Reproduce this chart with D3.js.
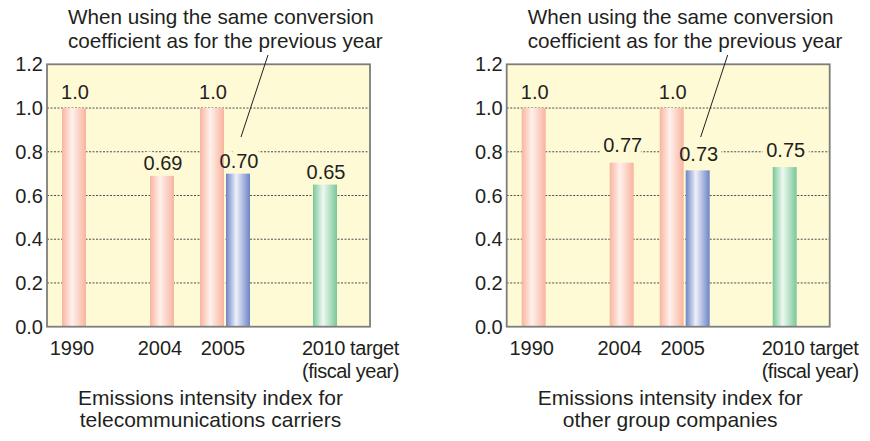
<!DOCTYPE html>
<html>
<head>
<meta charset="utf-8">
<script src="https://cdn.jsdelivr.net/npm/d3@7"></script>
<style>
  body { margin: 0; background: #fff; }
  text { font-family: "Liberation Sans", Arial, sans-serif; fill: #231f20; }
</style>
</head>
<body>
<svg id="chart" width="870" height="441"></svg>
<script>
// categories on the x axis
var categories = ["1990", "2004", "2005", "2010 target"];
// each bar: category, kind (pink = actual, blue = same coefficient, green = target)
var barCategory = ["1990", "2004", "2005", "2005", "2010 target"];
var barKind = ["actual", "actual", "actual", "sameCoef", "target"];
// bar heights as drawn, and the labels printed above them
var carrierValues = [1.0, 0.69, 1.0, 0.70, 0.65];
var carrierLabels = ["1.0", "0.69", "1.0", "0.70", "0.65"];
var groupValues = [1.0, 0.75, 1.0, 0.715, 0.73];
var groupLabels = ["1.0", "0.77", "1.0", "0.73", "0.75"];
var yTicks = [0, 0.2, 0.4, 0.6, 0.8, 1.0, 1.2];
var noteLines = ["When using the same conversion", "coefficient as for the previous year"];
var carrierTitle = ["Emissions intensity index for", "telecommunications carriers"];
var groupTitle = ["Emissions intensity index for", "other group companies"];

var svg = d3.select("#chart");
var bg = "#fffad6";

// gradients for the bars
var defs = svg.append("defs");
var gradColors = {
    actual: ["#f8b49f", "#fff1ec"],
    sameCoef: ["#6c84c6", "#eef0fa"],
    target: ["#78c898", "#eef8f1"]
};
Object.keys(gradColors).forEach(function (k) {
    var g = defs.append("linearGradient").attr("id", "grad-" + k)
        .attr("x1", "0").attr("x2", "1").attr("y1", "0").attr("y2", "0");
    g.append("stop").attr("offset", "0").attr("stop-color", gradColors[k][0]);
    g.append("stop").attr("offset", "0.42").attr("stop-color", gradColors[k][1]);
    g.append("stop").attr("offset", "1").attr("stop-color", gradColors[k][0]);
});

var plotW = 323, plotTop = 64.3, plotBottom = 326.7;
var barW = 24;

function drawPanel(left, values, labels, title) {
    var g = svg.append("g").attr("transform", "translate(" + left + ",0)");

    var y = d3.scaleLinear().domain([0, 1.2]).range([plotBottom, plotTop]);
    // group centres inside the plot
    var x = d3.scaleOrdinal().domain(categories).range([27, 115, 178, 278]);
    // left edge of a bar inside its group
    var sub = function (i) {
        var cat = barCategory[i];
        var n = barCategory.filter(function (c) { return c === cat; }).length;
        var k = barCategory.slice(0, i).filter(function (c) { return c === cat; }).length;
        return x(cat) - (n * barW + (n - 1) * 2) / 2 + k * (barW + 2);
    };
    var labelY = function (d, i) { return y(Math.max(d, +labels[i])) - (d >= 1 ? 9 : 6); };

    // background
    g.append("rect")
        .attr("x", 0).attr("y", plotTop)
        .attr("width", plotW).attr("height", plotBottom - plotTop)
        .attr("fill", bg);

    // grid lines
    g.selectAll(".grid")
        .data(yTicks.filter(function (d) { return d > 0 && d < 1.2; }))
        .join("line")
        .attr("class", "grid")
        .attr("x1", 0).attr("x2", plotW)
        .attr("y1", function (d) { return y(d); })
        .attr("y2", function (d) { return y(d); })
        .attr("stroke", "#3a3a3a")
        .attr("stroke-width", 0.9)
        .attr("stroke-dasharray", "2,1.5");

    // label halo cuts the grid lines, drawn under the bars
    g.selectAll(".halo")
        .data(values)
        .join("text")
        .attr("class", "halo")
        .attr("x", function (d, i) { return sub(i) + barW / 2 + 1; })
        .attr("y", labelY)
        .attr("text-anchor", "middle")
        .attr("font-size", 20)
        .attr("stroke", bg)
        .attr("stroke-width", 9)
        .style("fill", bg)
        .text(function (d, i) { return labels[i]; });

    // bars
    g.selectAll(".bar")
        .data(values)
        .join("rect")
        .attr("class", "bar")
        .attr("x", function (d, i) { return sub(i); })
        .attr("y", function (d) { return y(d); })
        .attr("width", barW)
        .attr("height", function (d) { return plotBottom - y(d); })
        .attr("fill", function (d, i) { return "url(#grad-" + barKind[i] + ")"; });

    // frame
    g.append("rect")
        .attr("x", 0).attr("y", plotTop)
        .attr("width", plotW).attr("height", plotBottom - plotTop)
        .attr("fill", "none")
        .attr("stroke", "#7d7d7d")
        .attr("stroke-width", 1.8);

    // value labels
    g.selectAll(".val")
        .data(values)
        .join("text")
        .attr("class", "val")
        .attr("x", function (d, i) { return sub(i) + barW / 2 + 1; })
        .attr("y", labelY)
        .attr("text-anchor", "middle")
        .attr("font-size", 20)
        .text(function (d, i) { return labels[i]; });

    // y axis labels
    g.selectAll(".ytick")
        .data(yTicks)
        .join("text")
        .attr("class", "ytick")
        .attr("x", -4)
        .attr("y", function (d) { return y(d) + 7; })
        .attr("text-anchor", "end")
        .attr("font-size", 20)
        .text(function (d) { return d.toFixed(1); });

    // x labels
    g.selectAll(".xlab")
        .data(categories)
        .join("text")
        .attr("class", "xlab")
        .attr("x", function (d) { return d === "2010 target" ? 255 : x(d) - 2; })
        .attr("y", 355)
        .attr("text-anchor", function (d) { return d === "2010 target" ? "start" : "middle"; })
        .attr("font-size", 20)
        .attr("letter-spacing", function (d) { return d === "2010 target" ? -0.4 : 0; })
        .text(function (d) { return d; });
    g.append("text")
        .attr("x", 255).attr("y", 378)
        .attr("font-size", 20)
        .attr("letter-spacing", -0.5)
        .text("(fiscal year)");

    // note above
    g.selectAll(".note")
        .data(noteLines)
        .join("text")
        .attr("class", "note")
        .attr("x", 21)
        .attr("y", function (d, i) { return 24 + i * 24; })
        .attr("font-size", 20.7)
        .text(function (d) { return d; });

    // leader line from note to the blue bar
    var bi = barKind.indexOf("sameCoef");
    g.append("line")
        .attr("x1", sub(bi) + 42).attr("y1", 55)
        .attr("x2", sub(bi) + 15).attr("y2", 137)
        .attr("stroke", "#231f20")
        .attr("stroke-width", 1);

    // panel title below
    g.selectAll(".title")
        .data(title)
        .join("text")
        .attr("class", "title")
        .attr("x", plotW / 2 + 2)
        .attr("y", function (d, i) { return 405 + i * 22; })
        .attr("text-anchor", "middle")
        .attr("font-size", 21)
        .text(function (d) { return d; });
}

drawPanel(47, carrierValues, carrierLabels, carrierTitle);
drawPanel(506.7, groupValues, groupLabels, groupTitle);
</script>
</body>
</html>
